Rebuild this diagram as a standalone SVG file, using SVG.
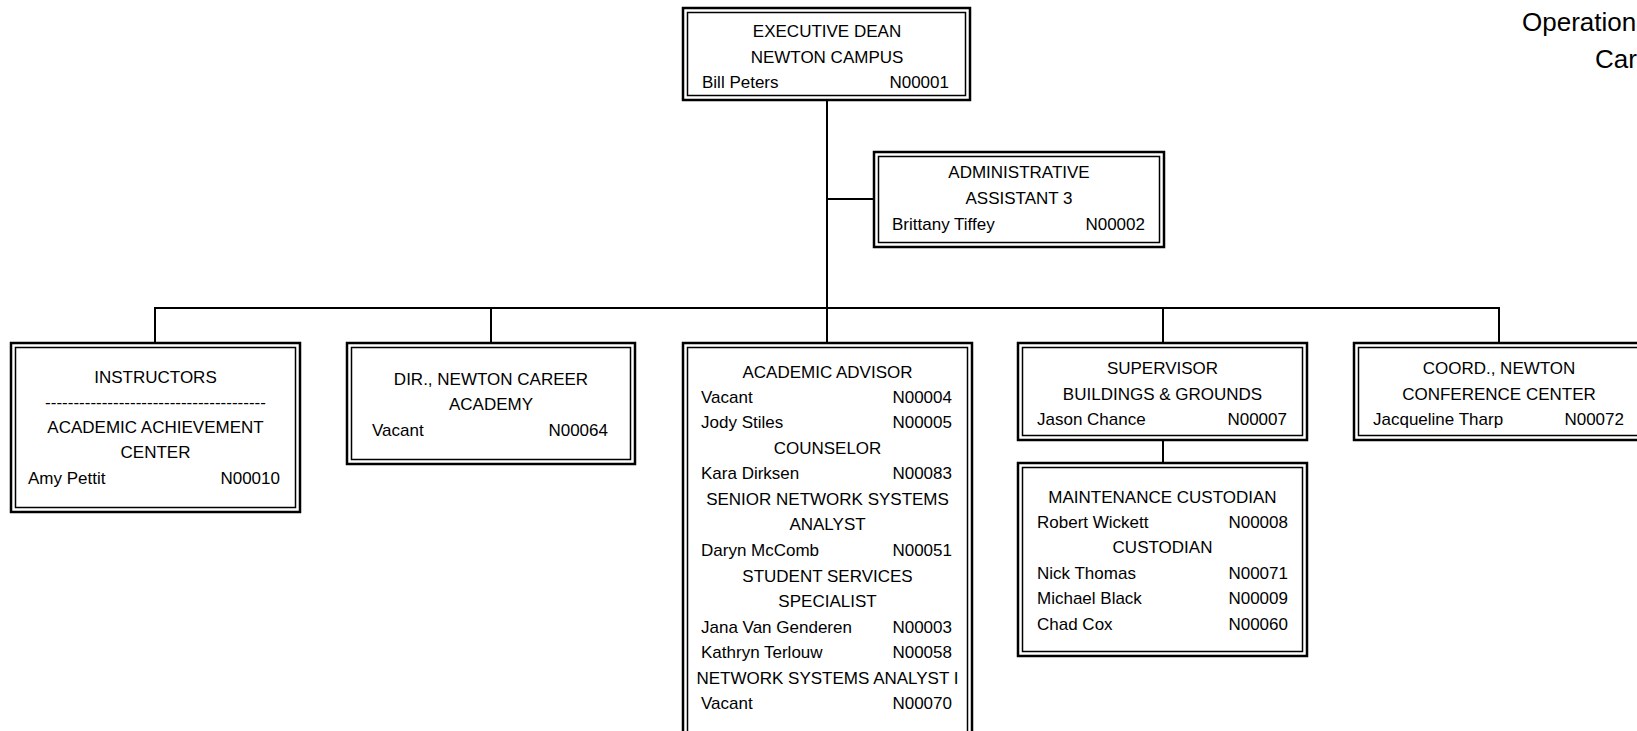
<svg xmlns="http://www.w3.org/2000/svg" width="1637" height="731" viewBox="0 0 1637 731">
<style>
.o{fill:#fff;stroke:#000;stroke-width:2.5}
.i{fill:none;stroke:#000;stroke-width:1.5}
text{font-family:"Liberation Sans",Arial,sans-serif;font-size:17px;fill:#000}
.c{text-anchor:middle}
.r{text-anchor:end}
.big{font-size:26px}
#connectors line{stroke:#000;stroke-width:2}
</style>
<rect width="1637" height="731" fill="#fff"/>
<g id="title">
<text class="big" x="1522" y="31">Operation</text>
<text class="big" x="1595" y="68">Car</text>
</g>
<g id="connectors">
<line x1="827" y1="100" x2="827" y2="308"/>
<line x1="827" y1="199" x2="874" y2="199"/>
<line x1="155" y1="308" x2="1499" y2="308"/>
<line x1="155" y1="307" x2="155" y2="343"/>
<line x1="491" y1="307" x2="491" y2="343"/>
<line x1="827" y1="307" x2="827" y2="343"/>
<line x1="1163" y1="307" x2="1163" y2="343"/>
<line x1="1499" y1="307" x2="1499" y2="343"/>
<line x1="1163" y1="440" x2="1163" y2="463"/>
</g>
<g id="exec-dean">
<rect class="o" x="683" y="8" width="287" height="92"/>
<rect class="i" x="687.5" y="12.5" width="278" height="83"/>
<text class="c" x="827" y="37">EXECUTIVE DEAN</text>
<text class="c" x="827" y="63">NEWTON CAMPUS</text>
<text x="702" y="88">Bill Peters</text>
<text class="r" x="949" y="88">N00001</text>
</g>
<g id="admin-assistant">
<rect class="o" x="874" y="152" width="290" height="95"/>
<rect class="i" x="878.5" y="156.5" width="281" height="86"/>
<text class="c" x="1019" y="178">ADMINISTRATIVE</text>
<text class="c" x="1019" y="204">ASSISTANT 3</text>
<text x="892" y="230">Brittany Tiffey</text>
<text class="r" x="1145" y="230">N00002</text>
</g>
<g id="instructors">
<rect class="o" x="11" y="343" width="289" height="169"/>
<rect class="i" x="15.5" y="347.5" width="280" height="160"/>
<text class="c" x="155.5" y="383">INSTRUCTORS</text>
<text class="c" x="155.5" y="408">---------------------------------------</text>
<text class="c" x="155.5" y="433">ACADEMIC ACHIEVEMENT</text>
<text class="c" x="155.5" y="458">CENTER</text>
<text x="28" y="484">Amy Pettit</text>
<text class="r" x="280" y="484">N00010</text>
</g>
<g id="career-academy">
<rect class="o" x="347" y="343" width="288" height="121"/>
<rect class="i" x="351.5" y="347.5" width="279" height="112"/>
<text class="c" x="491" y="385">DIR., NEWTON CAREER</text>
<text class="c" x="491" y="410">ACADEMY</text>
<text x="372" y="436">Vacant</text>
<text class="r" x="608" y="436">N00064</text>
</g>
<g id="academic-advisor">
<rect class="o" x="683" y="343" width="289" height="400"/>
<rect class="i" x="687.5" y="347.5" width="280" height="391"/>
<text class="c" x="827.5" y="378">ACADEMIC ADVISOR</text>
<text x="701" y="403">Vacant</text>
<text class="r" x="952" y="403">N00004</text>
<text x="701" y="428">Jody Stiles</text>
<text class="r" x="952" y="428">N00005</text>
<text class="c" x="827.5" y="454">COUNSELOR</text>
<text x="701" y="479">Kara Dirksen</text>
<text class="r" x="952" y="479">N00083</text>
<text class="c" x="827.5" y="505">SENIOR NETWORK SYSTEMS</text>
<text class="c" x="827.5" y="530">ANALYST</text>
<text x="701" y="556">Daryn McComb</text>
<text class="r" x="952" y="556">N00051</text>
<text class="c" x="827.5" y="582">STUDENT SERVICES</text>
<text class="c" x="827.5" y="607">SPECIALIST</text>
<text x="701" y="633">Jana Van Genderen</text>
<text class="r" x="952" y="633">N00003</text>
<text x="701" y="658">Kathryn Terlouw</text>
<text class="r" x="952" y="658">N00058</text>
<text class="c" x="827.5" y="684">NETWORK SYSTEMS ANALYST I</text>
<text x="701" y="709">Vacant</text>
<text class="r" x="952" y="709">N00070</text>
</g>
<g id="supervisor">
<rect class="o" x="1018" y="343" width="289" height="97"/>
<rect class="i" x="1022.5" y="347.5" width="280" height="88"/>
<text class="c" x="1162.5" y="374">SUPERVISOR</text>
<text class="c" x="1162.5" y="400">BUILDINGS &amp; GROUNDS</text>
<text x="1037" y="425">Jason Chance</text>
<text class="r" x="1287" y="425">N00007</text>
</g>
<g id="custodians">
<rect class="o" x="1018" y="463" width="289" height="193"/>
<rect class="i" x="1022.5" y="467.5" width="280" height="184"/>
<text class="c" x="1162.5" y="503">MAINTENANCE CUSTODIAN</text>
<text x="1037" y="528">Robert Wickett</text>
<text class="r" x="1288" y="528">N00008</text>
<text class="c" x="1162.5" y="553">CUSTODIAN</text>
<text x="1037" y="579">Nick Thomas</text>
<text class="r" x="1288" y="579">N00071</text>
<text x="1037" y="604">Michael Black</text>
<text class="r" x="1288" y="604">N00009</text>
<text x="1037" y="630">Chad Cox</text>
<text class="r" x="1288" y="630">N00060</text>
</g>
<g id="conference-center">
<rect class="o" x="1354" y="343" width="290" height="97"/>
<rect class="i" x="1358.5" y="347.5" width="281" height="88"/>
<text class="c" x="1499" y="374">COORD., NEWTON</text>
<text class="c" x="1499" y="400">CONFERENCE CENTER</text>
<text x="1373" y="425">Jacqueline Tharp</text>
<text class="r" x="1624" y="425">N00072</text>
</g>
</svg>
